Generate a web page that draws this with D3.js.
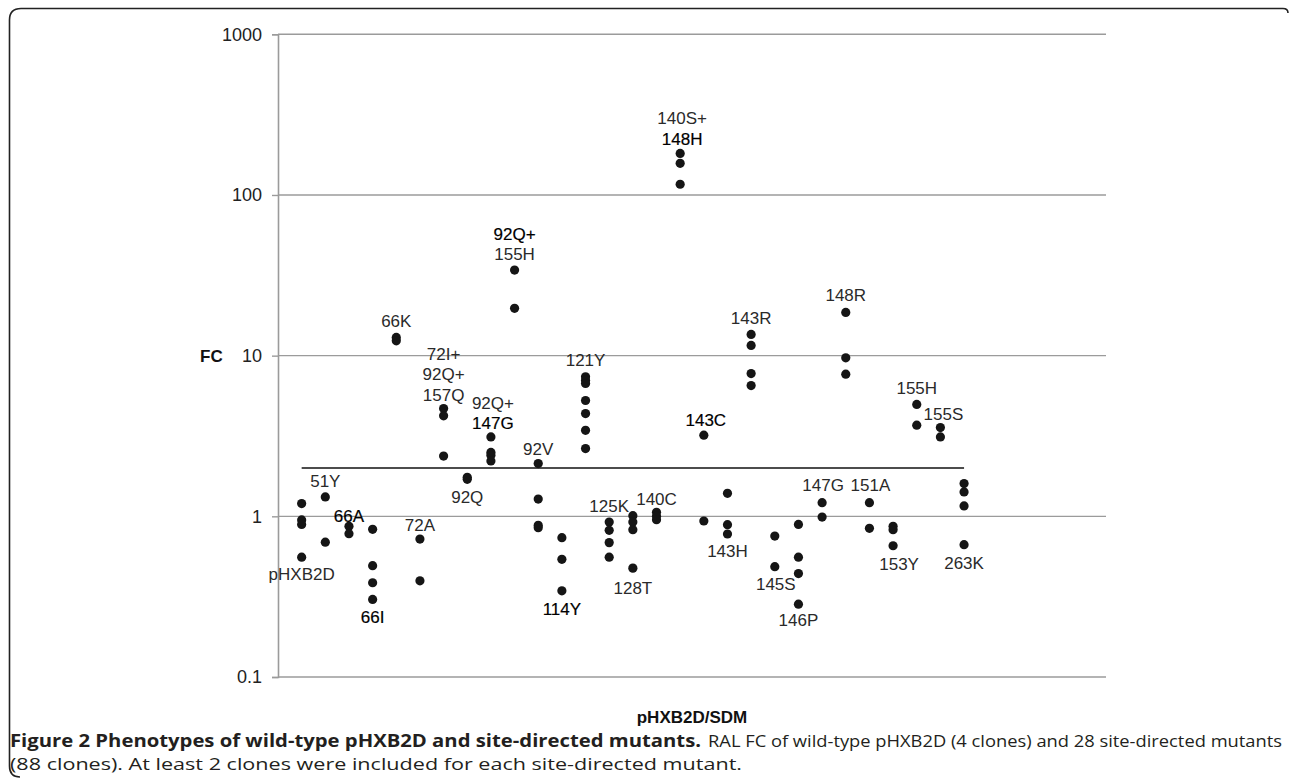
<!DOCTYPE html>
<html>
<head>
<meta charset="utf-8">
<script src="https://cdn.jsdelivr.net/npm/d3@7"></script>
<style>
  body { margin:0; background:#fff; }
  svg { display:block; }
  .tick-label { font-family:"Liberation Sans", Arial, sans-serif; font-size:18px; fill:#222; }
  .pt-label { font-family:"Liberation Sans", Arial, sans-serif; font-size:17px; fill:#2a2a2a; }
  .heavy { fill:#000; stroke:#000; stroke-width:0.2px; }
  .axis-title { font-family:"Liberation Sans", Arial, sans-serif; font-size:17px; font-weight:bold; fill:#111; }
  .caption { font-family:"Open Sans", sans-serif; font-size:17px; fill:#231f20; }
</style>
</head>
<body>
<svg width="1290" height="778"></svg>
<script>
// categories on the x axis (wild type first, then the 28 site-directed mutants)
var categories = ["pHXB2D","51Y","66A","66I","66K","72A","72I+92Q+157Q","92Q","92Q+147G","92Q+155H",
  "92V","114Y","121Y","125K","128T","140C","140S+148H","143C","143H","143R","145S","146P","147G",
  "148R","151A","153Y","155H","155S","263K"];

// FC of each clone (same order as categories)
var fc_values = [
  [1.2, 0.95, 0.89, 0.557],
  [1.32, 0.69],
  [0.866, 0.78],
  [0.83, 0.493, 0.386, 0.304],
  [12.98, 12.37],
  [0.722, 0.397],
  [4.69, 4.22, 2.37],
  [1.75, 1.70],
  [3.12, 2.5, 2.4, 2.21],
  [34.1, 19.7],
  [2.13, 1.28, 0.88, 0.85],
  [0.736, 0.54, 0.344],
  [7.38, 7.04, 6.71, 5.26, 4.36, 3.43, 2.64],
  [0.922, 0.818, 0.686, 0.557],
  [1.01, 0.922, 0.826, 0.476],
  [1.06, 1.0, 0.953],
  [181.5, 157.5, 116.6],
  [3.2, 0.935],
  [1.39, 0.887, 0.776],
  [13.55, 11.57, 7.74, 6.51],
  [0.754, 0.486],
  [0.89, 0.557, 0.44, 0.284],
  [1.216, 0.99],
  [18.58, 9.69, 7.67],
  [1.216, 0.842],
  [0.866, 0.826, 0.656],
  [4.97, 3.69],
  [3.57, 3.12],
  [1.6, 1.418, 1.16, 0.666]
];

// text shown next to each column
var label_lines = [["pHXB2D"],["51Y"],["66A"],["66I"],["66K"],["72A"],["72I+","92Q+","157Q"],["92Q"],
  ["92Q+","147G"],["92Q+","155H"],["92V"],["114Y"],["121Y"],["125K"],["128T"],["140C"],["140S+","148H"],
  ["143C"],["143H"],["143R"],["145S"],["146P"],["147G"],["148R"],["151A"],["153Y"],["155H"],["155S"],["263K"]];

var y_ticks = [0.1, 1, 10, 100, 1000];
var cutoff = 2;   // FC cut-off drawn as the black line

// layout: where each label's first baseline sits (in FC units) and a small x nudge
var label_anchor = [0.402,1.52,0.923,0.217,15.1,0.811,9.40,1.21,4.66,52.5,2.41,0.2434,8.63,1.065,0.329,
  1.177,276.5,3.65,0.5605,15.67,0.3464,0.208,1.439,21.8,1.439,0.4635,5.78,3.98,0.470];
var label_dx = [0,0,0,0,0,0,0,0,2,0,0,0,0,0,0,0,2,2,0,0,1,0,1,0,1,6,0,3,0];
// lines that print darker in the original
var heavy = {"2:0":1, "3:0":1, "8:1":1, "9:0":1, "11:0":1, "16:1":1, "17:0":1};

var svg = d3.select("svg");
svg.append("rect").attr("width",1290).attr("height",778).attr("fill","#fff");

// frame round the figure
svg.append("path")
  .attr("d","M1288,13 Q1288,8.5 1283,8.5 L21,8.5 Q9.5,8.5 9.5,20 L9.5,766 Q9.5,777 20,777")
  .attr("fill","none").attr("stroke","#222").attr("stroke-width",1.6);

var plot_left = 278, plot_right = 1106, plot_top = 34.3, plot_bottom = 677;

var x = d3.scaleLinear().domain([0, 35]).range([plot_left, plot_right]);
var y = d3.scaleLog().domain([0.1, 1000]).range([plot_bottom, plot_top]);

// grid lines
svg.selectAll("line.grid")
  .data(y_ticks).enter()
  .append("line")
  .attr("class","grid")
  .attr("x1", plot_left).attr("x2", plot_right)
  .attr("y1", d => y(d)).attr("y2", d => y(d))
  .attr("stroke","#9b9b9b").attr("stroke-width",1.4);

// y axis
var yAxis = d3.axisLeft(y).tickValues(y_ticks).tickSize(6).tickPadding(10)
  .tickFormat(function(d){ return d3.format("")(d); });
var gy = svg.append("g").attr("transform","translate(" + plot_left + ",0)").call(yAxis);
gy.select(".domain").attr("stroke","#9b9b9b").attr("stroke-width",1.6);
gy.selectAll(".tick line").attr("stroke","#9b9b9b").attr("stroke-width",1.4);
gy.attr("font-size",null).attr("font-family",null);
gy.selectAll(".tick text").attr("class","tick-label").attr("fill",null);

svg.append("text").attr("class","axis-title").attr("x",200).attr("y",y(10)).attr("dy","0.35em").text("FC");
svg.append("text").attr("class","axis-title").attr("text-anchor","middle")
  .attr("x",(plot_left+plot_right)/2).attr("y",723).text("pHXB2D/SDM");

// cut-off line from first to last column
svg.append("line")
  .attr("x1", x(1)).attr("x2", x(categories.length))
  .attr("y1", y(cutoff)).attr("y2", y(cutoff))
  .attr("stroke","#111").attr("stroke-width",1.5);

// points
var pts = [];
for(var i=0;i<categories.length;i++)
{
  for(var j=0;j<fc_values[i].length;j++)
  {
    pts.push({cat:i, fc:fc_values[i][j]});
  }
}
svg.selectAll("circle.pt")
  .data(pts).enter()
  .append("circle")
  .attr("class","pt")
  .attr("cx", d => x(d.cat+1))
  .attr("cy", d => y(d.fc))
  .attr("r", 4.6)
  .attr("fill","#151515");

// labels
for(var i=0;i<categories.length;i++)
{
  var t = svg.append("text")
    .attr("class","pt-label")
    .attr("text-anchor","middle");
  for(var k=0;k<label_lines[i].length;k++)
  {
    var ts = t.append("tspan")
      .attr("x", x(i+1) + label_dx[i])
      .attr("y", y(label_anchor[i]) + k*20.5)
      .text(label_lines[i][k]);
    if(heavy[i+":"+k])ts.attr("class","heavy");
  }
}

// caption
svg.append("text").attr("class","caption").attr("x",10).attr("y",747)
  .attr("font-weight","bold").attr("textLength",691).attr("lengthAdjust","spacingAndGlyphs")
  .text("Figure 2 Phenotypes of wild-type pHXB2D and site-directed mutants.");
svg.append("text").attr("class","caption").attr("x",708).attr("y",747)
  .attr("fill","#3a3a3a").attr("textLength",574).attr("lengthAdjust","spacingAndGlyphs")
  .text("RAL FC of wild-type pHXB2D (4 clones) and 28 site-directed mutants");
svg.append("text").attr("class","caption").attr("x",10).attr("y",770)
  .attr("fill","#3a3a3a").attr("textLength",732).attr("lengthAdjust","spacingAndGlyphs")
  .text("(88 clones). At least 2 clones were included for each site-directed mutant.");
</script>
</body>
</html>
